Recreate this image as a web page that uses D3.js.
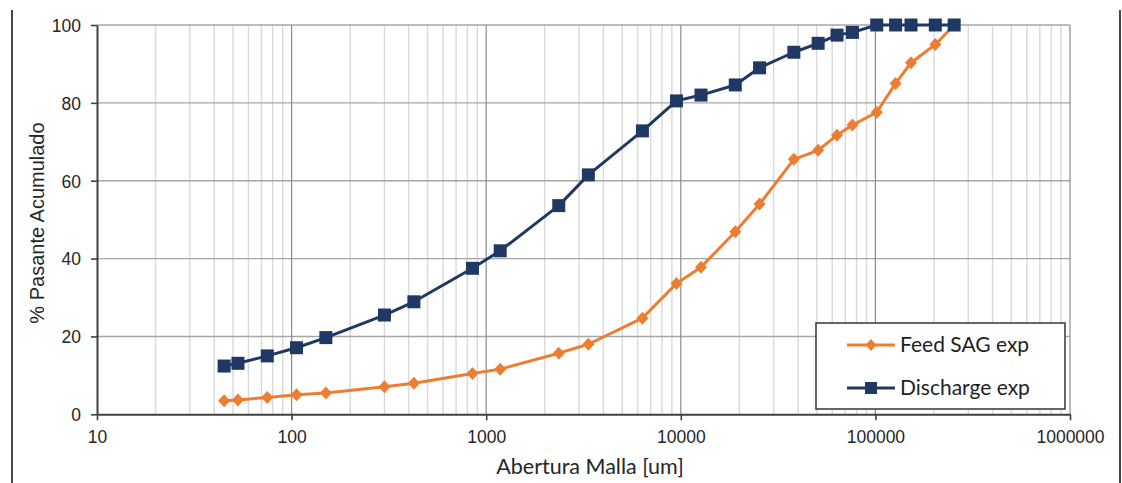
<!DOCTYPE html>
<html>
<head>
<meta charset="utf-8">
<script src="https://cdn.jsdelivr.net/npm/d3@7"></script>
<style>
  html, body { margin: 0; padding: 0; background: #fff; }
  svg { display: block; }
</style>
</head>
<body>
<svg id="chart" width="1122" height="483"></svg>
<script>
// Sieve apertures (um) and cumulative % passing for each stream
const apertures = [45, 53, 75, 106, 150, 300, 425, 850, 1180, 2360, 3350, 6350, 9500, 12700,
  19050, 25400, 38100, 50800, 63500, 76200, 101600, 127000, 152400, 203200, 254000];
const feedSag = [3.5, 3.7, 4.3, 5.0, 5.5, 7.1, 8.0, 10.5, 11.6, 15.7, 18.0, 24.7, 33.6, 37.8,
  46.9, 54.0, 65.5, 67.8, 71.7, 74.3, 77.6, 85.0, 90.3, 95.0, 100];
const discharge = [12.4, 13.1, 15.0, 17.1, 19.7, 25.5, 28.9, 37.5, 42.0, 53.6, 61.5, 72.8, 80.5, 82.0,
  84.6, 89.0, 93.0, 95.3, 97.4, 98.1, 100, 100, 100, 100, 100];

const xTicks = [10, 100, 1000, 10000, 100000, 1000000];
const yTicks = [0, 20, 40, 60, 80, 100];
const seriesNames = ["Feed SAG exp", "Discharge exp"];
const xTitle = "Abertura Malla [um]";
const yTitle = "% Pasante Acumulado";

const ORANGE = "#ED7D31";
const NAVY = "#203864";

const svg = d3.select("#chart");
const plot = { left: 97, right: 1070, top: 25, bottom: 414.3 };

const x = d3.scaleLog().domain([10, 1000000]).range([plot.left, plot.right]);
const y = d3.scaleLinear().domain([0, 100]).range([plot.bottom, plot.top]);

// page frame lines at both sides
svg.append("line").attr("x1", 12).attr("x2", 12).attr("y1", 10).attr("y2", 483)
  .attr("stroke", "#1a1a1a").attr("stroke-width", 1.6);
svg.append("line").attr("x1", 1120).attr("x2", 1120).attr("y1", 10).attr("y2", 483)
  .attr("stroke", "#1a1a1a").attr("stroke-width", 1.6);

// minor vertical gridlines (2..9 within each decade)
const minor = [];
for (let d = 10; d < 1000000; d *= 10) {
  for (let k = 2; k <= 9; k++) minor.push(d * k);
}
svg.append("g").selectAll("line").data(minor).join("line")
  .attr("x1", d => x(d)).attr("x2", d => x(d))
  .attr("y1", plot.top).attr("y2", plot.bottom)
  .attr("stroke", "#d9d9d9").attr("stroke-width", 1.4);

// horizontal major gridlines
svg.append("g").selectAll("line").data(yTicks.filter(v => v > 0)).join("line")
  .attr("x1", plot.left).attr("x2", plot.right)
  .attr("y1", d => y(d)).attr("y2", d => y(d))
  .attr("stroke", "#a6a6a6").attr("stroke-width", 1.4);

// decade gridlines
svg.append("g").selectAll("line").data(xTicks.filter(v => v > 10)).join("line")
  .attr("x1", d => x(d)).attr("x2", d => x(d))
  .attr("y1", plot.top).attr("y2", plot.bottom)
  .attr("stroke", "#8c8c8c").attr("stroke-width", 1.2);

// axes
const xAxis = d3.axisBottom(x).tickValues(xTicks).tickFormat(d3.format("d")).tickSize(6).tickSizeOuter(0);
const yAxis = d3.axisLeft(y).tickValues(yTicks).tickSize(6).tickSizeOuter(0);

const gx = svg.append("g").attr("transform", `translate(0,${plot.bottom})`).call(xAxis);
const gy = svg.append("g").attr("transform", `translate(${plot.left},0)`).call(yAxis);

[gx, gy].forEach(g => {
  g.select(".domain").attr("stroke", "#404040").attr("stroke-width", 2);
  g.selectAll(".tick line").attr("stroke", "#404040").attr("stroke-width", 1.6);
  g.selectAll(".tick text")
    .attr("font-family", "'Liberation Sans', Arial, sans-serif")
    .attr("font-size", 17.5).attr("fill", "#262626");
});
gx.selectAll(".tick text").attr("dy", null).attr("y", 29);
gy.selectAll(".tick text").attr("x", -16).attr("dy", "0.36em");

// axis titles
svg.append("text")
  .attr("x", 590).attr("y", 474)
  .attr("text-anchor", "middle")
  .attr("font-family", "Lato, 'Open Sans', sans-serif")
  .attr("font-size", 21.5).attr("fill", "#262626")
  .text(xTitle);

svg.append("text")
  .attr("transform", "translate(44,223) rotate(-90)")
  .attr("text-anchor", "middle")
  .attr("font-family", "'Liberation Sans', Arial, sans-serif")
  .attr("font-size", 20).attr("fill", "#262626")
  .text(yTitle);

// markers
const diamondPath = (w, h) => `M0,${-h / 2}L${w / 2},0L0,${h / 2}L${-w / 2},0Z`;
const squarePath = s => `M${-s / 2},${-s / 2}h${s}v${s}h${-s}Z`;

const line = d3.line().x(d => x(d[0])).y(d => y(d[1]));

function drawSeries(values, color, markerPath) {
  const pts = apertures.map((a, i) => [a, values[i]]);
  const g = svg.append("g");
  g.append("path").datum(pts).attr("d", line)
    .attr("fill", "none").attr("stroke", color).attr("stroke-width", 3)
    .attr("stroke-linejoin", "round");
  g.selectAll("path.m").data(pts).join("path").attr("class", "m")
    .attr("transform", d => `translate(${x(d[0])},${y(d[1])})`)
    .attr("d", markerPath).attr("fill", color);
}

drawSeries(feedSag, ORANGE, diamondPath(12, 13));
drawSeries(discharge, NAVY, squarePath(13));

// legend
const legend = svg.append("g");
legend.append("rect").attr("x", 816).attr("y", 323).attr("width", 249).attr("height", 86)
  .attr("fill", "#fff").attr("stroke", "#404040").attr("stroke-width", 1.6);

const legendItems = [
  { name: seriesNames[0], color: ORANGE, marker: diamondPath(11, 12), cy: 345 },
  { name: seriesNames[1], color: NAVY, marker: squarePath(12), cy: 388 }
];
legendItems.forEach(it => {
  legend.append("line").attr("x1", 847).attr("x2", 895).attr("y1", it.cy).attr("y2", it.cy)
    .attr("stroke", it.color).attr("stroke-width", 3.2);
  legend.append("path").attr("transform", `translate(871,${it.cy})`)
    .attr("d", it.marker).attr("fill", it.color);
  legend.append("text").attr("x", 900).attr("y", it.cy).attr("dy", "0.35em")
    .attr("font-family", "Lato, 'Open Sans', sans-serif")
    .attr("font-size", 21).attr("fill", "#1f1f1f")
    .text(it.name);
});
</script>
</body>
</html>
